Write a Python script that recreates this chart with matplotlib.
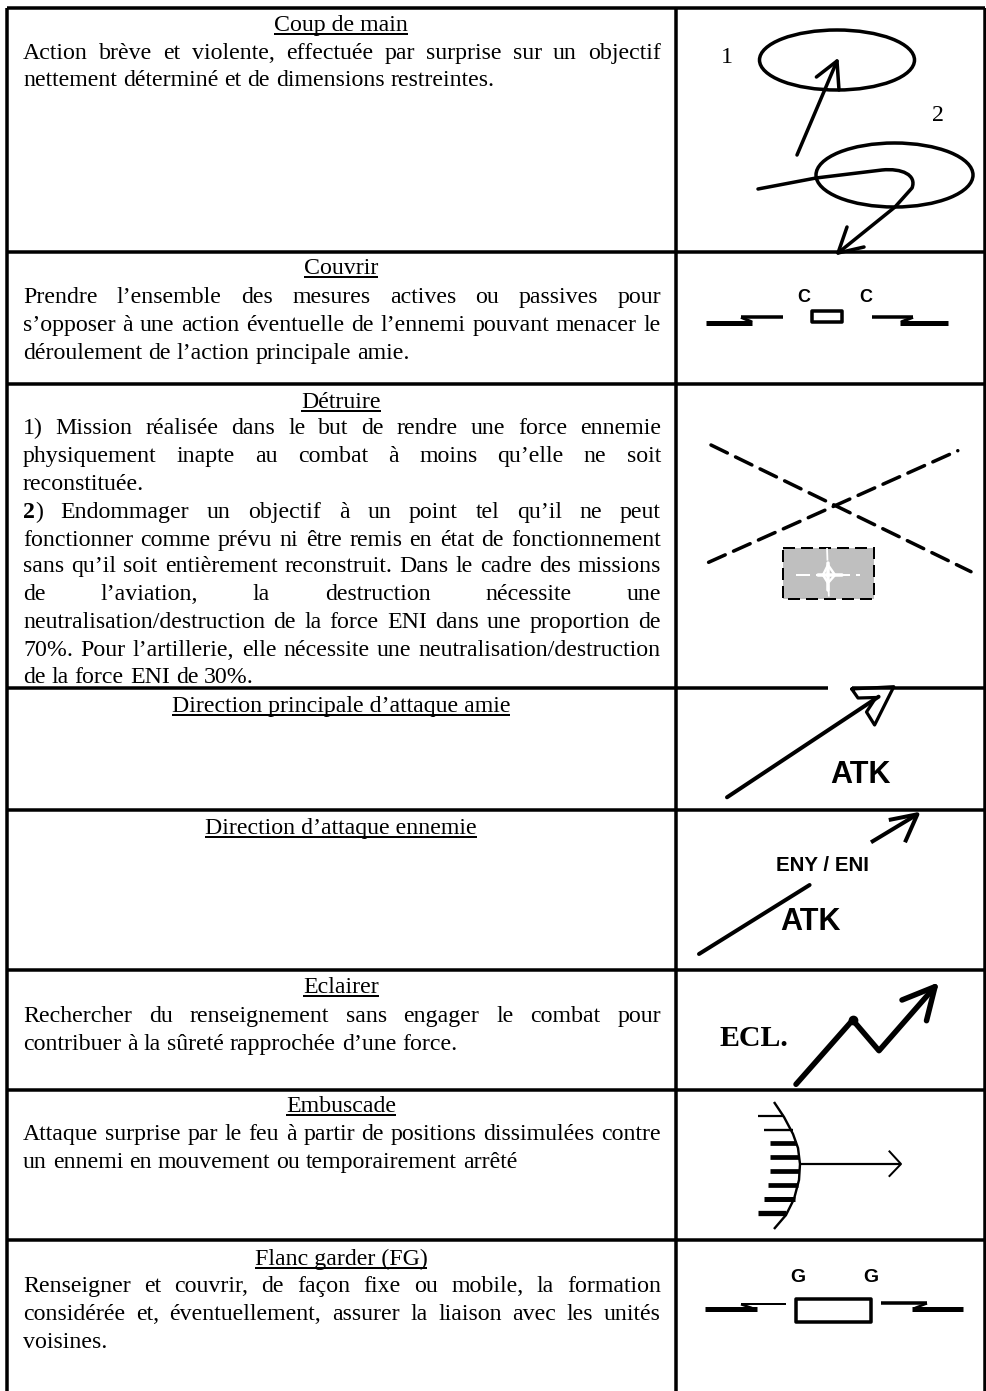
import matplotlib
matplotlib.use("Agg")
import matplotlib.pyplot as plt
from matplotlib.patches import Ellipse, Rectangle, PathPatch
from matplotlib.path import Path

W, H = 987, 1391
SERIF = "Liberation Serif"
SANS = "Liberation Sans"
BODY_SIZE = 17.2

# table frame, pixels
ROW_LINES = [8, 252, 384, 688, 810, 970, 1090, 1240]
COL_LINES = [6.5, 676, 985]

TITLES = ["Coup de main", "Couvrir", "Détruire", "Direction principale d’attaque amie",
          "Direction d’attaque ennemie", "Eclairer", "Embuscade", "Flanc garder (FG)"]
TITLE_Y = [31, 274, 408, 712, 834, 993, 1112, 1265]

# (baseline, text, justified)
BODY = [
    (59, "Action brève et violente, effectuée par surprise sur un objectif", True),
    (86, "nettement déterminé et de dimensions restreintes.", False),
    (302.7, "Prendre l’ensemble des mesures actives ou passives pour", True),
    (331, "s’opposer à une action éventuelle de l’ennemi pouvant menacer le", True),
    (359, "déroulement de l’action principale amie.", False),
    (434, "1) Mission réalisée dans le but de rendre une force ennemie", True),
    (462, "physiquement inapte au combat à moins qu’elle ne soit", True),
    (490, "reconstituée.", False),
    (517.7, "2) Endommager un objectif à un point tel qu’il ne peut", True),
    (545.7, "fonctionner comme prévu ni être remis en état de fonctionnement", True),
    (571.7, "sans qu’il soit entièrement reconstruit. Dans le cadre des missions", True),
    (600, "de l’aviation, la destruction nécessite une", True),
    (628, "neutralisation/destruction de la force ENI dans une proportion de", True),
    (655.7, "70%. Pour l’artillerie, elle nécessite une neutralisation/destruction", True),
    (683.3, "de la force ENI de 30%.", False),
    (1021.7, "Rechercher du renseignement sans engager le combat pour", True),
    (1050, "contribuer à la sûreté rapprochée d’une force.", False),
    (1140, "Attaque surprise par le feu à partir de positions dissimulées contre", True),
    (1167.7, "un ennemi en mouvement ou temporairement arrêté", False),
    (1292, "Renseigner et couvrir, de façon fixe ou mobile, la formation", True),
    (1320, "considérée et, éventuellement, assurer la liaison avec les unités", True),
    (1347.7, "voisines.", False),
]

# coup de main symbol
COUP_ELLIPSES = [(837, 60, 155, 60), (894.5, 175, 157, 64)]
COUP_ARROW_X = [797, 837]
COUP_ARROW_Y = [155, 61]
COUP_HEAD_X = [816.4, 837, 839]
COUP_HEAD_Y = [77, 61, 90]
COUP_CURVE = [(758, 189), (816, 178), (882, 170), (902, 168), (917, 175), (912, 188), (895, 207), (838, 253)]
COUP_HEAD2_X = [847, 838, 864]
COUP_HEAD2_Y = [227, 253, 247]

# embuscade symbol
HATCH_Y = [1116, 1130, 1143.3, 1157.3, 1171.3, 1185.3, 1199.3, 1213.3]
HATCH_X0 = [758, 764, 770, 770, 770, 768, 764, 758]
HATCH_X1 = [784, 793, 796, 798.5, 798.5, 798, 794.5, 786]
HATCH_LW = [1.6, 1.7, 3.4, 3.4, 3.4, 3.4, 3.6, 3.8]
ARC_X = [774, 784, 793, 798, 800, 799, 794, 786, 774]
ARC_Y = [1102, 1117, 1134, 1148, 1164, 1180, 1199, 1215, 1229]

fig = plt.figure(figsize=(W / 100, H / 100), dpi=100)
ax = fig.add_axes([0, 0, 1, 1])
ax.set_xlim(0, W)
ax.set_ylim(H, 0)
ax.axis("off")
renderer = fig.canvas.get_renderer()


def px(v):
    return v * 0.72


def line(xs, ys, w=3.5, **kw):
    kw.setdefault("solid_capstyle", "round")
    kw.setdefault("solid_joinstyle", "round")
    kw.setdefault("color", "black")
    ax.plot(xs, ys, lw=px(w), **kw)


def text_width(s, **kw):
    t = ax.text(0, 0, s, fontsize=BODY_SIZE, family=SERIF, **kw)
    w = t.get_window_extent(renderer).width
    t.remove()
    return w


def body_line(y, s, justified, x0=23, x1=661):
    words = s.split(" ")
    widths = [text_width(w) for w in words]
    space = text_width("a a") - text_width("aa")
    if justified:
        space = (x1 - x0 - sum(widths)) / (len(words) - 1)
    x = x0
    for word, w in zip(words, widths):
        if word == "2)":
            ax.text(x, y, "2", fontsize=BODY_SIZE, family=SERIF, weight="bold", va="baseline")
            ax.text(x + text_width("2", weight="bold"), y, ")", fontsize=BODY_SIZE, family=SERIF, va="baseline")
        else:
            ax.text(x, y, word, fontsize=BODY_SIZE, family=SERIF, va="baseline")
        x += w + space


# grid
for y in ROW_LINES:
    line([COL_LINES[0], COL_LINES[2]], [y, y], 3.5, solid_capstyle="butt")
for x in COL_LINES:
    line([x, x], [ROW_LINES[0], H], 3.5, solid_capstyle="butt")

# left column
for title, y in zip(TITLES, TITLE_Y):
    t = ax.text(341, y, title, fontsize=BODY_SIZE, family=SERIF, ha="center", va="baseline")
    w = t.get_window_extent(renderer).width
    line([341 - w / 2, 341 + w / 2], [y + 3, y + 3], 2, solid_capstyle="butt")
for y, s, just in BODY:
    body_line(y, s, just)

# coup de main
ax.text(721, 63, "1", fontsize=BODY_SIZE, family=SERIF, va="baseline")
ax.text(932, 121, "2", fontsize=BODY_SIZE, family=SERIF, va="baseline")
for cx, cy, ew, eh in COUP_ELLIPSES:
    ax.add_patch(Ellipse((cx, cy), ew, eh, fill=False, ec="black", lw=px(3.5)))
line(COUP_ARROW_X, COUP_ARROW_Y)
line(COUP_HEAD_X, COUP_HEAD_Y)
codes = [Path.MOVETO] + [Path.LINETO] * 2 + [Path.CURVE4] * 3 + [Path.LINETO] * 2
ax.add_patch(PathPatch(Path(COUP_CURVE, codes), fill=False, ec="black", lw=px(3.5), capstyle="round"))
line(COUP_HEAD2_X, COUP_HEAD2_Y)

# couvrir
for x in [804, 866]:
    ax.text(x, 301.7, "C", fontsize=13, family=SANS, weight="bold", ha="center", va="baseline")
line([740.6, 782.7], [317.3, 317.3], 3.5, solid_capstyle="butt")
line([706, 752], [323.3, 323.3], 5, solid_capstyle="butt")
line([741, 752], [317.3, 322], 3, solid_capstyle="butt")
line([872, 913], [317.3, 317.3], 3.5, solid_capstyle="butt")
line([899.5, 948], [323.3, 323.3], 5, solid_capstyle="butt")
line([913, 901], [317.3, 322], 3, solid_capstyle="butt")
ax.add_patch(Rectangle((812, 310.7), 30, 11.3, fill=False, ec="black", lw=px(3.5), joinstyle="round"))

# detruire
line([711, 971], [445, 571.7], 3.5, linestyle=(0, (5.2, 2.6)), dash_capstyle="round")
line([708.6, 957.8], [562.3, 450.7], 3.5, linestyle=(0, (5.2, 2.6)), dash_capstyle="round")
ax.add_patch(Rectangle((782.7, 548.3), 90.9, 51, fc="#bfbfbf", ec="none"))
ax.add_patch(Rectangle((782.7, 548.3), 90.9, 51, fill=False, ec="black", lw=px(2), linestyle=(0, (6, 3))))
line([796, 860], [575, 575], 2, color="white", linestyle=(0, (7, 3)), dash_capstyle="butt")
line([827, 829], [548, 600], 1.8, color="white", linestyle=(0, (7, 3)), dash_capstyle="butt")
line([818, 842], [575, 575], 3.5, color="white")
line([828, 828], [563, 590], 3.5, color="white")
line([823, 828, 835, 828, 823], [575, 565, 575, 583, 575], 2.5, color="white")

# direction principale
ax.add_patch(Rectangle((828, 685), 24, 6, fc="white", ec="none", zorder=3))
line([727, 878.6], [797.3, 696.7], 4, zorder=4)
line([851.7, 893.8, 874.6, 866.5, 876, 858, 851.7], [689, 686.7, 725, 712, 697.5, 698, 689], 3.2, zorder=4)
ax.text(860, 782.7, "ATK", fontsize=22, family=SANS, weight="bold", ha="center", va="baseline")

# direction ennemie
line([871, 917.4], [842.3, 814.3], 4, solid_capstyle="butt")
line([888.8, 917.4, 905], [820, 814.3, 842.3], 4, solid_capstyle="butt")
line([699, 809.6], [954, 885], 4)
ax.text(822.6, 871, "ENY / ENI", fontsize=14.8, family=SANS, weight="bold", ha="center", va="baseline")
ax.text(810, 930, "ATK", fontsize=22, family=SANS, weight="bold", ha="center", va="baseline")

# eclairer
ax.text(720, 1046, "ECL.", fontsize=21.5, family=SERIF, weight="bold", va="baseline")
line([796, 852.7, 879, 935], [1084.3, 1020, 1050.7, 986.7], 5.5)
line([902, 935, 926.5], [1000, 986.7, 1020.7], 5.5)
ax.plot([852.7], [1020], "o", color="black", ms=6)

# embuscade
line(ARC_X, ARC_Y, 2.4, solid_capstyle="butt")
for y, x0, x1, lw in zip(HATCH_Y, HATCH_X0, HATCH_X1, HATCH_LW):
    ax.plot([x0, x1], [y, y], color="black", lw=lw, solid_capstyle="butt")
line([800, 901], [1164, 1164], 2.2, solid_capstyle="butt")
line([888.8, 901, 888.8], [1150.7, 1164, 1176.7], 2, solid_capstyle="butt")

# flanc garder
for x in [798, 871]:
    ax.text(x, 1281.7, "G", fontsize=14, family=SANS, weight="bold", ha="center", va="baseline")
line([740.6, 786], [1304.3, 1304.3], 2, solid_capstyle="butt")
line([705, 757], [1309.3, 1309.3], 5, solid_capstyle="butt")
line([741, 752], [1304.3, 1308], 2.5, solid_capstyle="butt")
line([881, 927], [1303.3, 1303.3], 3.5, solid_capstyle="butt")
line([911.6, 963], [1309.3, 1309.3], 5, solid_capstyle="butt")
line([927, 915], [1303.3, 1308], 2.5, solid_capstyle="butt")
ax.add_patch(Rectangle((795.5, 1299), 75.1, 23.3, fill=False, ec="black", lw=px(3.5), joinstyle="round"))

fig.savefig("out.png", dpi=100)
